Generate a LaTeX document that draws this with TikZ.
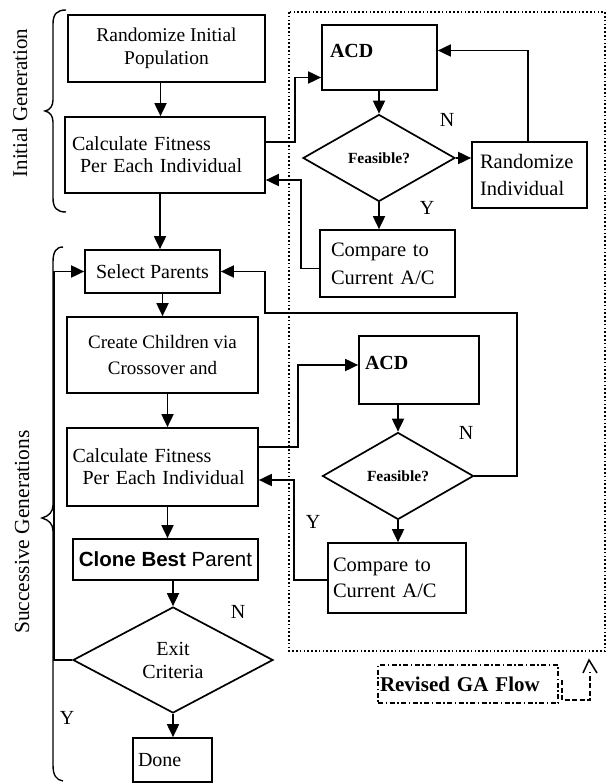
\documentclass[tikz,border=0pt]{standalone}
\usepackage{fontspec}
\setmainfont{Liberation Serif}
\setsansfont{Liberation Sans}
\usetikzlibrary{shapes.geometric,arrows.meta,calc}
\begin{document}
\begin{tikzpicture}[x=1pt,y=-1pt,
  box/.style={draw, line width=1.7pt, inner sep=0pt, font=\fontsize{20}{22}\selectfont},
  dia/.style={draw, diamond, line width=1.7pt, inner sep=0pt},
  arr/.style={line width=1.8pt, -{Triangle[length=13pt,width=12pt]}},
  lbl/.style={font=\fontsize{20}{22}\selectfont, inner sep=0pt},
  feas/.style={font=\bfseries\fontsize{15.5}{17}\selectfont},
  acd/.style={font=\bfseries\fontsize{20}{22}\selectfont, text depth=14pt}
]
\useasboundingbox (0,0) rectangle (614,783);

% dotted region
\draw[line width=1.8pt, dash pattern=on 1.6pt off 2.2pt] (289,12) rectangle (605,651);

% left column
\node[box, minimum width=197pt, minimum height=67pt, align=center, font=\fontsize{19.5}{23}\selectfont] (rip) at (166.5,48.5) {Randomize Initial\\Population};
\node[box, minimum width=200pt, minimum height=76pt, text width=186pt, align=left] (cf1) at (165,155) {Calculate Fitness\\\hspace*{8pt}Per Each Individual};
\node[box, minimum width=135pt, minimum height=43pt, align=center] (sp) at (152.5,271.5) {Select Parents};
\node[box, minimum width=191pt, minimum height=76pt, align=center, font=\fontsize{19}{25}\selectfont] (cc) at (162.5,355) {Create Children via\\Crossover and};
\node[box, minimum width=191pt, minimum height=78pt, text width=180pt, align=left] (cf2) at (162.5,467) {Calculate Fitness\\\hspace*{10pt}Per Each Individual};
\node[box, minimum width=185pt, minimum height=41pt, align=center, font=\sffamily\fontsize{20.5}{22}\selectfont] (cb) at (165.5,559.5) {\textbf{Clone Best} Parent};
\node[dia, minimum width=200pt, minimum height=106pt, aspect=1.89, align=center, font=\fontsize{20}{23}\selectfont] (ex) at (173,660) {Exit\\Criteria};
\node[box, minimum width=79pt, minimum height=44pt, text width=69pt, align=left] (done) at (172.5,760) {Done};

% upper right loop
\node[box, minimum width=115pt, minimum height=65pt, text width=99pt, align=left, acd] (acd1) at (379.5,57.5) {ACD};
\node[dia, minimum width=152pt, minimum height=87pt, aspect=1.75, feas] (fe1) at (379,158) {Feasible?};
\node[box, minimum width=115pt, minimum height=66pt, text width=99pt, align=left, font=\fontsize{20.5}{27}\selectfont] (ri) at (529.5,175) {Randomize\\Individual};
\node[box, minimum width=135pt, minimum height=67pt, text width=113pt, align=left, font=\fontsize{20.5}{28}\selectfont] (cmp1) at (387.5,263.5) {Compare to\\Current A/C};

% lower right loop
\node[box, minimum width=120pt, minimum height=68pt, text width=108pt, align=left, acd] (acd2) at (419,370) {ACD};
\node[dia, minimum width=151pt, minimum height=87pt, aspect=1.74, feas] (fe2) at (398,476) {Feasible?};
\node[box, minimum width=138pt, minimum height=70pt, text width=128pt, align=left, font=\fontsize{20.5}{26}\selectfont] (cmp2) at (397,578) {Compare to\\Current A/C};

% labels
\node[lbl] (n1) at (447,120) {N};
\node[lbl] (y1) at (427,208) {Y};
\node[lbl] (n2) at (466,433) {N};
\node[lbl] (y2) at (313,522) {Y};
\node[lbl] (n3) at (238,612) {N};
\node[lbl] (y3) at (67,718) {Y};

% braces
\draw[line width=1.4pt] (66,10) .. controls (57,10) and (53,14) .. (53,24) -- (53,100)
  .. controls (53,106) and (50,110) .. (45,111) .. controls (50,112) and (53,116) .. (53,122)
  -- (53,198) .. controls (53,208) and (57,212) .. (66,212);
\draw[line width=1.4pt] (63,247) .. controls (56,247) and (53,252) .. (53,262) -- (53,505)
  .. controls (53,512) and (49,516) .. (42,518) .. controls (49,520) and (53,524) .. (53,531)
  -- (53,765) .. controls (53,775) and (56,780) .. (63,781);
\node[lbl, rotate=90, font=\fontsize{21}{22}\selectfont] (ig) at (20,103) {Initial Generation};
\node[lbl, rotate=90, font=\fontsize{21.5}{22}\selectfont] (sg) at (22,532) {Successive Generations};

% connectors left column
\draw[arr] ([xshift=-6pt]rip.south) -- ([xshift=-6pt]rip.south |- cf1.north);
\draw[arr] ([xshift=-5pt]cf1.south) -- ([xshift=-5pt]cf1.south |- sp.north);
\draw[arr] (cc.north |- sp.south) -- (cc.north);
\draw[arr] ([xshift=5pt]cc.south) -- ([xshift=5pt]cc.south |- cf2.north);
\draw[arr] ([xshift=5pt]cf2.south) -- ([xshift=5pt]cf2.south |- cb.north);
\draw[arr] (ex.north |- cb.south) -- (ex.north);
\draw[arr] (ex.south) -- (ex.south |- done.north);
\draw[arr] (ex.west) -- ++(-18,0) |- (sp.west);

% connectors upper loop
\draw[arr] ([yshift=13pt]cf1.east) -- ++(29,0) |- ([yshift=-20pt]acd1.west);
\draw[arr] (fe1.north |- acd1.south) -- (fe1.north);
\draw[arr] (fe1.east) -- (fe1.east -| ri.west);
\draw[arr] ([xshift=-1.5pt]ri.north) |- ([yshift=7pt]acd1.east);
\draw[arr] (fe1.south) -- (fe1.south |- cmp1.north);
\draw[arr] ([yshift=-5pt]cmp1.west) -- ++(-18,0) |- ([yshift=-25pt]cf1.east);

% connectors lower loop
\coordinate (l1) at (517,313);
\coordinate (l2) at (265,313);
\draw[arr] ([yshift=20pt]cf2.east) -- ++(39,0) |- ([yshift=5pt]acd2.west);
\draw[arr] (fe2.north |- acd2.south) -- (fe2.north);
\draw[arr] (fe2.east) -| (l1) -- (l2) |- (sp.east);
\draw[arr] (fe2.south) -- (fe2.south |- cmp2.north);
\draw[arr] ([yshift=-2pt]cmp2.west) -- ++(-33,0) |- ([yshift=-13pt]cf2.east);

% legend
\node[draw, line width=1.4pt, dash pattern=on 5pt off 2.5pt on 1.5pt off 2.5pt, minimum width=180pt, minimum height=38pt, text width=176pt, align=left, inner sep=0pt, font=\bfseries\fontsize{21}{24}\selectfont] (leg) at (468,684) {Revised GA Flow};
\draw[line width=1.5pt, dash pattern=on 5pt off 2.5pt] (562,680) -- (562,700) -- (590,700) -- (590,672);
\draw[line width=1.5pt] (583,673) -- (589,660) -- (597,673);
\end{tikzpicture}
\end{document}
